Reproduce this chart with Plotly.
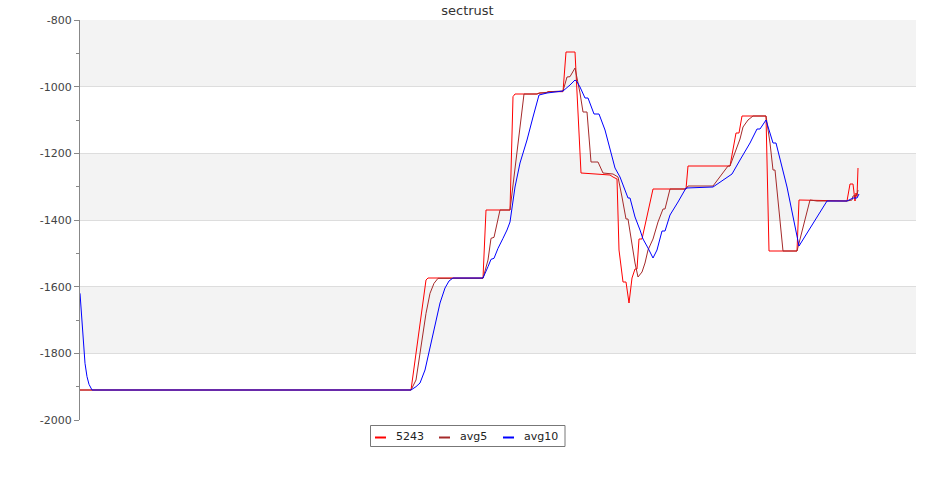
import plotly.graph_objects as go

# ---- data (x = sample position, y = value) ----
x_5243 = [0, 331, 346, 348, 403, 406, 430, 433, 435, 457, 459, 466, 468, 483, 486, 495, 501,
          523, 530, 533, 537, 539, 543, 546, 549, 552, 555, 557, 559, 562, 573, 577, 606,
          608, 650, 656, 659, 662, 686, 689, 717, 719, 767, 770, 773, 775, 776, 777, 778]
y_5243 = [-1910, -1910, -1580, -1574, -1574, -1370, -1370, -1030, -1022, -1022, -1019, -1019,
          -1015, -1015, -896, -896, -1259, -1262, -1265, -1271, -1277, -1490, -1586, -1586,
          -1649, -1574, -1547, -1547, -1457, -1457, -1307, -1307, -1307, -1238, -1238, -1139,
          -1139, -1088, -1088, -1493, -1493, -1340, -1343, -1292, -1292, -1343, -1319, -1330, -1244]

x_avg5 = [0, 331, 336, 340, 346, 350, 354, 358, 403, 408, 411, 414, 417, 420, 430, 444, 457,
          460, 467, 470, 483, 487, 490, 495, 500, 503, 507, 511, 518, 523, 533, 538, 542, 546,
          548, 555, 558, 562, 565, 568, 573, 578, 583, 585, 590, 606, 608, 633, 648, 650, 660,
          663, 668, 673, 686, 690, 693, 695, 703, 717, 730, 737, 767, 772, 773, 777, 778]
y_avg5 = [-1910, -1910, -1880, -1800, -1680, -1620, -1590, -1575, -1575, -1520, -1455, -1452,
          -1410, -1370, -1370, -1022, -1022, -1019, -1017, -1015, -1013, -971, -970, -944,
          -1019, -1076, -1076, -1226, -1226, -1259, -1262, -1271, -1331, -1397, -1397, -1529,
          -1571, -1556, -1529, -1490, -1457, -1406, -1367, -1367, -1307, -1307, -1298, -1298,
          -1238, -1238, -1157, -1121, -1100, -1088, -1088, -1169, -1250, -1250, -1493, -1493,
          -1340, -1343, -1343, -1340, -1328, -1325, -1310]

x_avg10 = [0, 1.5, 3, 5, 7, 9, 12, 331, 336, 340, 345, 350, 355, 360, 365, 369, 373, 403, 408,
           411, 414, 418, 423, 427, 430, 435, 440, 447, 453, 459, 467, 483, 490, 495, 497, 500,
           505, 508, 514, 519, 525, 530, 535, 540, 545, 548, 550, 555, 560, 563, 568, 573, 577,
           582, 585, 590, 598, 606, 633, 643, 652, 660, 670, 677, 680, 686, 693, 696, 707, 719,
           747, 767, 773, 777, 779]
y_avg10 = [-1620, -1680, -1770, -1830, -1870, -1893, -1910, -1910, -1900, -1889, -1850, -1781,
           -1715, -1649, -1604, -1583, -1574, -1574, -1540, -1518, -1515, -1485, -1455, -1430,
           -1406, -1301, -1229, -1160, -1091, -1025, -1019, -1013, -995, -980, -985, -1001,
           -1034, -1034, -1082, -1082, -1130, -1190, -1244, -1271, -1310, -1334, -1334, -1391,
           -1430, -1457, -1484, -1514, -1490, -1433, -1433, -1385, -1346, -1304, -1301, -1280,
           -1262, -1220, -1169, -1127, -1127, -1100, -1169, -1169, -1301, -1478, -1343, -1343,
           -1334, -1334, -1322]

y_ticks = [-2000, -1800, -1600, -1400, -1200, -1000, -800]
y_ticklabels = ["-2000", "-1800", "-1600", "-1400", "-1200", "-1000", "-800"]
y_minor = [-1900, -1700, -1500, -1300, -1100, -900]

series_names = ["5243", "avg5", "avg10"]
series_colors = ["#ff0000", "#a52a2a", "#0000ff"]

W, H = 935, 500
ML, MR, MT, MB = 80, 19, 20, 80
PW, PH = W - ML - MR, H - MT - MB

def px_x(p):
    return (p - ML) / PW

def px_y(p):
    return (H - MB - p) / PH

fig = go.Figure()
for xs, ys, name, col in [(x_5243, y_5243, series_names[0], series_colors[0]),
                          (x_avg5, y_avg5, series_names[1], series_colors[1]),
                          (x_avg10, y_avg10, series_names[2], series_colors[2])]:
    fig.add_trace(go.Scatter(x=xs, y=ys, mode="lines", name=name,
                             line=dict(color=col, width=1), showlegend=False))

shapes = []
# alternating background bands
for lo, hi in [(-1000, -800), (-1400, -1200), (-1800, -1600)]:
    shapes.append(dict(type="rect", xref="paper", yref="y", x0=0, x1=1, y0=lo, y1=hi,
                       fillcolor="#f3f3f3", line=dict(width=0), layer="below"))

# custom legend
shapes.append(dict(type="rect", xref="paper", yref="paper",
                   x0=px_x(370.5), x1=px_x(565), y0=px_y(425.5), y1=px_y(446.5),
                   line=dict(color="#777", width=1), fillcolor="white"))
annotations = []
leg_line_x = [375, 439, 503]
leg_text_x = [394, 458, 522]
for lx, tx, name, col in zip(leg_line_x, leg_text_x, series_names, series_colors):
    shapes.append(dict(type="line", xref="paper", yref="paper",
                       x0=px_x(lx), x1=px_x(lx + 11), y0=px_y(437.5), y1=px_y(437.5),
                       line=dict(color=col, width=2)))
    annotations.append(dict(xref="paper", yref="paper", x=px_x(tx), y=px_y(436),
                            xanchor="left", yanchor="middle", text=name, showarrow=False,
                            font=dict(family="DejaVu Sans", size=11, color="#222")))

fig.update_layout(
    width=W, height=H,
    margin=dict(l=ML, r=MR, t=MT, b=MB),
    paper_bgcolor="white", plot_bgcolor="white",
    title=dict(text="sectrust", x=0.5, xref="container",
               y=1 - 10 / H, yref="container",
               xanchor="center", yanchor="middle",
               font=dict(family="DejaVu Sans", size=13, color="#333")),
    shapes=shapes, annotations=annotations,
    showlegend=False,
)
fig.update_xaxes(range=[0, PW], visible=False, showgrid=False, zeroline=False)
fig.update_yaxes(range=[-2000, -800], tickvals=y_ticks, ticktext=y_ticklabels,
                 ticks="outside", ticklen=5, tickcolor="#888", tickwidth=1,
                 showline=True, linecolor="#888", linewidth=1,
                 showgrid=True, gridcolor="#dddddd", gridwidth=1, zeroline=False,
                 tickfont=dict(family="DejaVu Sans", size=11, color="#444"),
                 minor=dict(tickvals=y_minor, ticks="outside", ticklen=3,
                            tickcolor="#888", showgrid=False))

# remove the browser's default 8px body margin so the figure sits at the page origin
fig.write_html("out.html", config={"displayModeBar": False},
               post_script="document.body.style.margin='0px';")
